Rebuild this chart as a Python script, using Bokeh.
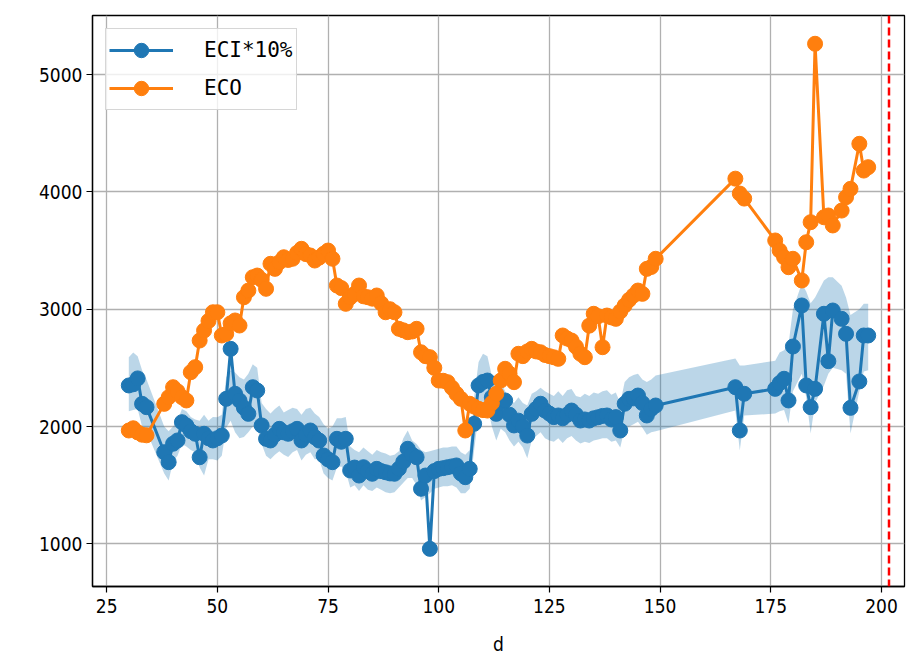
from bokeh.plotting import figure
from bokeh.models import FixedTicker, Span, Range1d, Legend, LegendItem
from bokeh.embed import file_html
from bokeh.resources import INLINE

# ---- data ----
days = [30, 31, 32, 33, 34,
        38, 39, 40, 41, 42, 43, 44, 45, 46, 47, 48, 49, 50, 51, 52, 53, 54, 55, 56, 57, 58, 59,
        60, 61, 62, 63, 64, 65, 66, 67, 68, 69, 70, 71, 72, 73, 74, 75, 76, 77, 78, 79,
        80, 81, 82, 83, 84, 85, 86, 87, 88, 89, 90, 91, 92, 93, 94, 95, 96, 97, 98, 99,
        100, 101, 102, 103, 104, 105, 106, 107, 108, 109, 110, 111, 112, 113, 114, 115, 116, 117, 118, 119,
        120, 121, 122, 123, 124, 125, 126, 127, 128, 129, 130, 131, 132, 133, 134, 135, 136, 137, 138, 139,
        140, 141, 142, 143, 144, 145, 146, 147, 148, 149,
        167, 168, 169,
        176, 177, 178, 179, 180, 182, 183, 184, 185, 187, 188, 189, 191, 192, 193, 195, 196, 197]

eci_10pct = [2350, 2360, 2410, 2193, 2165,
             1781, 1696, 1853, 1881, 2037, 2009, 1960, 1938, 1738, 1938, 1900, 1881, 1900, 1923, 2236, 2662, 2279, 2222, 2160, 2108, 2335, 2307,
             2009, 1895, 1881, 1930, 1980, 1950, 1938, 1960, 1980, 1881, 1930, 1966, 1909, 1880, 1753, 1720, 1696, 1895, 1870, 1895,
             1625, 1650, 1582, 1653, 1620, 1597, 1639, 1620, 1610, 1600, 1597, 1640, 1700, 1810, 1760, 1738, 1469, 1582, 957, 1620,
             1639, 1645, 1653, 1660, 1668, 1600, 1568, 1639, 2023, 2350, 2380, 2392, 2250, 2108, 2200, 2222, 2100, 2009, 2050, 2000,
             1923, 2108, 2150, 2194, 2136, 2110, 2080, 2094, 2070, 2100, 2136, 2100, 2051, 2060, 2051, 2070, 2079, 2090, 2094, 2060,
             2080, 1966, 2194, 2236, 2240, 2264, 2200, 2094, 2150, 2179,
             2335, 1966, 2279,
             2321, 2370, 2407, 2222, 2682, 3032, 2350, 2165, 2321, 2961, 2557, 2989, 2918, 2790, 2159, 2384, 2776, 2776]

eco = [1966, 1985, 1950, 1930, 1925,
       2193, 2250, 2335, 2300, 2250, 2222, 2463, 2506, 2733, 2818, 2900, 2974, 2974, 2776, 2790, 2880, 2904, 2861, 3102, 3159, 3273, 3287,
       3250, 3174, 3387, 3344, 3400, 3443, 3420, 3430, 3480, 3515, 3470, 3458, 3415, 3440, 3472, 3500, 3430, 3202, 3180, 3046,
       3100, 3131, 3202, 3110, 3102, 3090, 3117, 3050, 2974, 3000, 2974, 2833, 2820, 2804, 2810, 2833, 2633, 2600, 2591, 2500,
       2392, 2390, 2378, 2330, 2279, 2236, 1966, 2194, 2170, 2151, 2140, 2136, 2200, 2279, 2392, 2492, 2450, 2378, 2620, 2600,
       2640, 2662, 2640, 2633, 2610, 2600, 2590, 2577, 2776, 2750, 2733, 2680, 2620, 2591, 2860, 2961, 2940, 2676, 2946, 2930,
       2918, 2980, 3032, 3080, 3117, 3159, 3131, 3344, 3360, 3430,
       4113, 3986, 3943,
       3586, 3500, 3443, 3358, 3430, 3245, 3571, 3742, 5263, 3784, 3799, 3714, 3841, 3955, 4026, 4410, 4182, 4211]

band_lo = [2130, 2140, 2150, 2000, 1960,
           1600, 1540, 1700, 1750, 1850, 1830, 1800, 1780, 1650, 1582, 1720, 1720, 1710, 1750, 1990, 2050, 1950, 1900, 1910, 1950, 2000, 1990,
           1850, 1750, 1720, 1760, 1790, 1760, 1740, 1780, 1800, 1710, 1760, 1780, 1720, 1720, 1600, 1560, 1540, 1650, 1660, 1620,
           1480, 1500, 1450, 1500, 1460, 1450, 1480, 1460, 1440, 1430, 1440, 1480, 1520, 1560, 1560, 1500, 1370, 1400, 1430, 1470,
           1480, 1490, 1490, 1500, 1480, 1430, 1430, 1470, 1800, 2100, 2160, 2180, 2000, 1881, 1980, 1950, 1880, 1830, 1870, 1820,
           1730, 1880, 1920, 1950, 1900, 1880, 1870, 1900, 1860, 1900, 1920, 1880, 1855, 1870, 1860, 1880, 1890, 1900, 1900, 1870,
           1880, 1820, 1980, 2000, 2020, 2040, 1990, 1930, 1950, 1960,
           2136, 1795, 2094,
           2110, 2130, 2140, 2025, 2300, 2450, 2250, 1940, 2200, 2350, 2450, 2500, 2480, 2450, 1940, 2300, 2470, 2480]

band_hi = [2590, 2630, 2600, 2480, 2400,
           2000, 1960, 2000, 2050, 2150, 2130, 2080, 2060, 2050, 2100, 2050, 2080, 2079, 2100, 2420, 2480, 2460, 2420, 2400, 2450, 2530, 2500,
           2200, 2150, 2110, 2150, 2180, 2120, 2140, 2160, 2150, 2100, 2150, 2160, 2110, 2080, 2020, 1980, 2000, 2070, 2070, 2080,
           1830, 1800, 1780, 1820, 1790, 1760, 1800, 1780, 1770, 1750, 1760, 1790, 1900, 1966, 1880, 1850, 1800, 1780, 1790, 1800,
           1810, 1820, 1820, 1830, 1830, 1780, 1760, 1800, 2250, 2550, 2620, 2600, 2430, 2350, 2380, 2300, 2240, 2200, 2250, 2200,
           2180, 2280, 2300, 2330, 2300, 2280, 2260, 2300, 2260, 2310, 2320, 2260, 2250, 2280, 2260, 2290, 2280, 2300, 2310, 2270,
           2290, 2200, 2380, 2420, 2440, 2450, 2400, 2380, 2400, 2435,
           2580, 2520, 2520,
           2560, 2630, 2650, 2700, 3000, 3220, 3150, 3050, 3100, 3245, 3273, 3273, 3200, 3100, 2950, 3000, 3046, 3046]

x_ticks = [25, 50, 75, 100, 125, 150, 175, 200]
y_ticks = [1000, 2000, 3000, 4000, 5000]
cutoff_day = [201.7]
x_label = "d"

BLUE = "#1f77b4"
ORANGE = "#ff7f0e"
TICK_FONT = "DejaVu Sans Condensed, DejaVu Sans, sans-serif"
LEG_FONT = "DejaVu Sans Mono"

p = figure(frame_width=812, frame_height=571, output_backend="svg", toolbar_location=None,
           x_range=Range1d(21.8, 205.2), y_range=Range1d(636, 5504),
           min_border_left=92, min_border_right=16, min_border_top=15, min_border_bottom=76)
p.background_fill_color = "white"
p.border_fill_color = "white"
p.outline_line_color = "black"
p.outline_line_width = 1.3

# band
p.varea(x=days, y1=band_lo, y2=band_hi, fill_color=BLUE, fill_alpha=0.3)

# series
l1 = p.line(days, eci_10pct, line_color=BLUE, line_width=3)
s1 = p.scatter(days, eci_10pct, size=15, fill_color=BLUE, line_color=BLUE)
l2 = p.line(days, eco, line_color=ORANGE, line_width=3)
s2 = p.scatter(days, eco, size=15, fill_color=ORANGE, line_color=ORANGE)

for xv in cutoff_day:
    p.add_layout(Span(location=xv, dimension="height", line_color="red", line_width=2.5, line_dash="8 4"))

legend = Legend(items=[LegendItem(label="ECI*10%", renderers=[l1, s1]),
                       LegendItem(label="ECO", renderers=[l2, s2])],
                location="top_left")
legend.margin = 13
legend.padding = 3
legend.spacing = 2
legend.glyph_width = 64
legend.glyph_height = 36
legend.label_height = 36
legend.label_standoff = 31
legend.label_text_font = LEG_FONT
legend.label_text_font_size = "21px"
legend.label_text_color = "black"
legend.label_text_baseline = "middle"
legend.border_line_color = "#cccccc"
legend.border_line_alpha = 0.8
legend.border_line_width = 1.2
legend.background_fill_alpha = 0.8
p.add_layout(legend)

for ax in (p.xaxis, p.yaxis):
    ax.axis_line_color = "black"
    ax.axis_line_width = 1.3
    ax.major_tick_in = 0
    ax.major_tick_out = 6
    ax.major_tick_line_width = 1.2
    ax.minor_tick_line_color = None
    ax.major_label_text_font = TICK_FONT
    ax.major_label_text_font_size = "19px"
    ax.major_label_text_color = "black"

p.xaxis.major_label_standoff = 6
p.yaxis.major_label_standoff = 4
p.xaxis.ticker = FixedTicker(ticks=x_ticks)
p.yaxis.ticker = FixedTicker(ticks=y_ticks)
p.xaxis.axis_label = x_label
p.xaxis.axis_label_text_font = TICK_FONT
p.xaxis.axis_label_text_font_style = "normal"
p.xaxis.axis_label_text_font_size = "19px"
p.xaxis.axis_label_text_color = "black"
p.xaxis.axis_label_standoff = 17

p.xgrid.ticker = FixedTicker(ticks=x_ticks)
p.ygrid.ticker = FixedTicker(ticks=y_ticks)
for g in (p.xgrid, p.ygrid):
    g.grid_line_color = "#b0b0b0"
    g.grid_line_width = 1.3

open("out.html", "w").write(file_html(p, INLINE))
